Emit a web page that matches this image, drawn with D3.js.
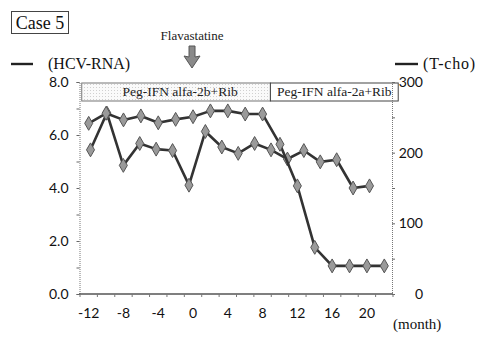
<!DOCTYPE html>
<html>
<head>
<meta charset="utf-8">
<script src="https://cdn.jsdelivr.net/npm/d3@7"></script>
<style>
  html, body { margin: 0; padding: 0; background: #fff; }
  svg { display: block; }
</style>
</head>
<body>
<svg id="chart" width="483" height="342"></svg>
<script>
// ---- data ----
const months = [-12, -10, -8, -6, -4, -2, 0, 2, 4, 6, 8, 10, 12, 14, 16, 18, 20, 22];
const xTickLabels = [-12, -8, -4, 0, 4, 8, 12, 16, 20];
const hcvRna = [6.44, 6.82, 6.57, 6.72, 6.46, 6.59, 6.69, 6.91, 6.91, 6.79, 6.79, 5.65, 4.08, 1.76, 1.06, 1.06, 1.06, 1.06];
const tchoMonths = [-12, -10, -8, -6, -4, -2, 0, 2, 4, 6, 8, 10, 12, 14, 16, 18, 20, 22];
const tCho = [204, 256, 182, 213, 205, 203, 154, 230, 208, 199, 213, 204, 191, 203, 187, 190, 150, 153];
const leftTicks = [0, 2, 4, 6, 8];
const rightTicks = [0, 100, 200, 300];
const treatments = [
  { label: "Peg-IFN alfa-2b+Rib", from: -12.8, to: 8.9 },
  { label: "Peg-IFN alfa-2a+Rib", from: 8.9, to: 23.6 }
];
const caseLabel = "Case 5";
const drugLabel = "Flavastatine";
const drugMonth = 0;

// ---- layout ----
const svg = d3.select("#chart");
const L = 80, R = 393, T = 82, B = 294;
const serif = "'Liberation Serif', 'Times New Roman', serif";
const sans = "Lato, 'Open Sans', sans-serif";

const x = d3.scaleBand().domain(months).range([L, R]).padding(0);
const xc = m => x(m) + x.bandwidth() / 2;
const xMonth = d3.scaleLinear().domain([-12, 22]).range([xc(-12), xc(22)]);
const x2 = d3.scalePoint().domain(tchoMonths).range([90.5, 369.5]);
const yL = d3.scaleLinear().domain([0, 8]).range([B, T]);
const yR = d3.scaleLinear().domain([0, 300]).range([B, T]);

// ---- treatment boxes ----
const boxG = svg.append("g");
const pat = svg.append("defs").append("pattern")
  .attr("id", "stip").attr("width", 3).attr("height", 3).attr("patternUnits", "userSpaceOnUse");
pat.append("rect").attr("width", 3).attr("height", 3).attr("fill", "#fafafa");
pat.append("rect").attr("width", 1).attr("height", 1).attr("fill", "#d0d0d0");
treatments.forEach((t, i) => {
  const x0 = xMonth(t.from), x1 = xMonth(t.to);
  boxG.append("rect")
    .attr("x", x0).attr("y", 83).attr("width", x1 - x0).attr("height", 18)
    .attr("fill", i === 0 ? "url(#stip)" : "#fff")
    .attr("stroke", i === 0 ? "#777" : "#444").attr("stroke-width", 1);
  boxG.append("text")
    .attr("x", (x0 + x1) / 2 + (i === 0 ? 4 : 0)).attr("y", 96)
    .attr("text-anchor", "middle")
    .attr("font-family", serif).attr("font-size", 13.5).attr("fill", "#222")
    .text(t.label);
});

// ---- axes ----
// left axis
const gl = svg.append("g").attr("transform", `translate(${L - 0.5},0)`)
  .call(d3.axisLeft(yL).tickValues(d3.range(0, 9, 1)).tickSize(3).tickFormat(d => leftTicks.includes(d) ? d3.format(".1f")(d) : ""));
gl.select(".domain").attr("stroke", "#777").attr("stroke-dasharray", "1,1");
gl.selectAll(".tick line").attr("stroke", "#666");
gl.selectAll(".tick text").attr("font-family", sans).attr("font-size", 14).attr("fill", "#111").attr("x", -11);

// right axis
const gr = svg.append("g").attr("transform", `translate(${R - 1},0)`)
  .call(d3.axisRight(yR).tickValues(d3.range(0, 301, 50)).tickSize(3).tickFormat(d => rightTicks.includes(d) ? d : ""));
gr.select(".domain").attr("stroke", "#777").attr("stroke-dasharray", "1,1");
gr.selectAll(".tick line").attr("stroke", "#666");
gr.selectAll(".tick text").attr("font-family", sans).attr("font-size", 14).attr("fill", "#111")
  .attr("text-anchor", "end").attr("x", 31);

// bottom axis
const gb = svg.append("g").attr("transform", `translate(0,${B})`);
gb.append("line").attr("x1", L - 1).attr("x2", R).attr("stroke", "#555").attr("stroke-width", 1.6);
const boundaries = months.map(m => x(m)).concat([R]);
gb.selectAll(".bt").data(boundaries).enter().append("line")
  .attr("x1", d => d).attr("x2", d => d).attr("y1", 0).attr("y2", 3)
  .attr("stroke", "#777");
gb.selectAll(".bl").data(xTickLabels).enter().append("text")
  .attr("x", d => xc(d)).attr("y", 24)
  .attr("text-anchor", "middle")
  .attr("font-family", sans).attr("font-size", 14).attr("fill", "#111")
  .text(d => d);

// ---- series ----
const diamond = d3.symbol().type(d3.symbolDiamond).size(56);
function series(data, xs, xf, ys) {
  const pts = data.map((v, i) => [xf(xs[i]), ys(v)]);
  svg.append("path")
    .attr("d", d3.line()(pts))
    .attr("fill", "none").attr("stroke", "#333").attr("stroke-width", 2.6)
    .attr("stroke-linejoin", "round");
  svg.append("g").selectAll("path").data(pts).enter().append("path")
    .attr("d", diamond)
    .attr("transform", d => `translate(${d[0]},${d[1]})`)
    .attr("fill", "#9a9a9a").attr("stroke", "#555").attr("stroke-width", 1);
}
series(tCho, tchoMonths, d => x2(d), yR);
series(hcvRna, months, xc, yL);

// ---- annotations ----
// case label
svg.append("rect").attr("x", 11.5).attr("y", 11.5).attr("width", 57).attr("height", 22)
  .attr("fill", "none").attr("stroke", "#444").attr("stroke-width", 1);
svg.append("text").attr("x", 40).attr("y", 29).attr("text-anchor", "middle")
  .attr("font-family", serif).attr("font-size", 18).attr("fill", "#111").text(caseLabel);

// drug annotation
const ax = xc(drugMonth) - 1;
svg.append("text").attr("x", ax).attr("y", 40).attr("text-anchor", "middle")
  .attr("font-family", serif).attr("font-size", 13).attr("fill", "#222").text(drugLabel);
const arrow = d3.path();
arrow.moveTo(ax - 3, 46); arrow.lineTo(ax + 3, 46); arrow.lineTo(ax + 3, 57);
arrow.lineTo(ax + 8, 56); arrow.lineTo(ax, 68); arrow.lineTo(ax - 8, 56);
arrow.lineTo(ax - 3, 57); arrow.closePath();
svg.append("path").attr("d", arrow.toString())
  .attr("fill", "#8a8a8a").attr("stroke", "#555").attr("stroke-width", 1);

// legends
svg.append("line").attr("x1", 11).attr("x2", 33).attr("y1", 64).attr("y2", 64)
  .attr("stroke", "#222").attr("stroke-width", 2.4);
svg.append("text").attr("x", 48).attr("y", 69)
  .attr("font-family", serif).attr("font-size", 16).attr("fill", "#111").text("(HCV-RNA)");
svg.append("line").attr("x1", 395).attr("x2", 418).attr("y1", 64).attr("y2", 64)
  .attr("stroke", "#222").attr("stroke-width", 2.4);
svg.append("text").attr("x", 423).attr("y", 69)
  .attr("font-family", serif).attr("font-size", 16).attr("letter-spacing", 0.8).attr("fill", "#111").text("(T-cho)");

// x unit
svg.append("text").attr("x", 393).attr("y", 329)
  .attr("font-family", serif).attr("font-size", 15).attr("fill", "#111").text("(month)");
</script>
</body>
</html>
